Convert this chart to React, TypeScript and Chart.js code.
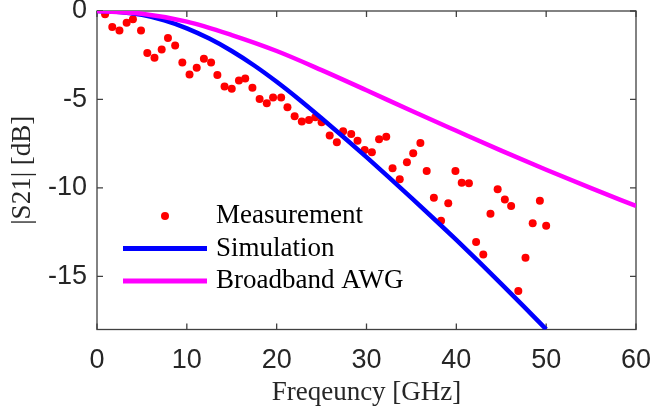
import React, { useEffect, useRef } from "react";
import { Chart, registerables } from "chart.js";

Chart.register(...registerables);

const measFreq = [0.9, 1.7, 2.5, 3.3, 4.0, 4.9, 5.6, 6.4, 7.2, 7.9, 8.7, 9.5, 10.3, 11.1, 11.9, 12.7, 13.4, 14.2, 15.0, 15.8, 16.5, 17.3, 18.1, 18.9, 19.6, 20.5, 21.2, 22.0, 22.8, 23.6, 24.3, 25.0, 25.9, 26.7, 27.4, 28.3, 29.0, 29.8, 30.6, 31.4, 32.2, 32.9, 33.7, 34.5, 35.2, 36.0, 36.7, 37.5, 38.3, 39.1, 39.9, 40.6, 41.4, 42.2, 43.0, 43.8, 44.6, 45.4, 46.1, 46.9, 47.7, 48.5, 49.3, 50.0];
const measS21 = [-0.19, -0.91, -1.10, -0.66, -0.47, -1.10, -2.38, -2.64, -2.17, -1.53, -1.95, -2.91, -3.59, -3.21, -2.70, -2.91, -3.61, -4.27, -4.40, -3.93, -3.82, -4.34, -4.98, -5.21, -4.89, -4.89, -5.44, -5.95, -6.25, -6.16, -6.0, -6.29, -7.04, -7.42, -6.80, -6.95, -7.33, -7.85, -7.98, -7.25, -7.1, -8.89, -9.51, -8.55, -8.04, -7.46, -9.04, -10.55, -11.85, -10.87, -9.04, -9.70, -9.74, -13.05, -13.76, -11.46, -10.08, -10.65, -11.02, -15.82, -13.95, -11.99, -10.72, -12.14];

const simFreq = [0, 2.5, 5, 7.5, 10, 12.5, 15, 17.5, 20, 22.5, 25, 27.5, 30, 32.5, 35, 37.5, 40, 42.5, 45, 47.5, 50];
const simS21 = [0, -0.05, -0.22, -0.53, -0.98, -1.56, -2.26, -3.08, -4.0, -5.0, -6.06, -7.15, -8.26, -9.4, -10.56, -11.74, -12.94, -14.17, -15.42, -16.69, -17.99];

const awgFreq = [0, 5, 10, 15, 20, 25, 30, 35, 40, 45, 50, 55, 60];
const awgS21 = [0, -0.15, -0.6, -1.36, -2.26, -3.34, -4.48, -5.64, -6.77, -7.89, -8.97, -10.01, -11.02];

const xTicks = [0, 10, 20, 30, 40, 50, 60];
const yTicks = [-15, -10, -5, 0];

const legendLabels = ["Measurement", "Simulation", "Broadband AWG"];
const xTitle = "Freqeuncy [GHz]";
const yTitle = "|S21| [dB]";

const AXIS = "#404040";
const TEXT = "#262626";
const RED = "#ff0000";
const BLUE = "#0000ff";
const MAGENTA = "#ff00ff";

const toXY = (xs: number[], ys: number[]) => xs.map((x, i) => ({ x, y: ys[i] }));

const decor = {
  id: "decor",
  beforeDatasetsDraw(chart: any) {
    const { ctx, chartArea: a, scales } = chart;
    ctx.save();
    ctx.strokeStyle = AXIS;
    ctx.lineWidth = 1.3;
    ctx.strokeRect(a.left, a.top, a.right - a.left, a.bottom - a.top);
    const tl = 6;
    ctx.beginPath();
    xTicks.forEach((v) => {
      const px = scales.x.getPixelForValue(v);
      ctx.moveTo(px, a.bottom);
      ctx.lineTo(px, a.bottom - tl);
      ctx.moveTo(px, a.top);
      ctx.lineTo(px, a.top + tl);
    });
    yTicks.forEach((v) => {
      const py = scales.y.getPixelForValue(v);
      ctx.moveTo(a.left, py);
      ctx.lineTo(a.left + tl, py);
      ctx.moveTo(a.right, py);
      ctx.lineTo(a.right - tl, py);
    });
    ctx.stroke();
    ctx.restore();
  },
  afterDraw(chart: any) {
    const { ctx, chartArea: a } = chart;
    ctx.save();
    ctx.fillStyle = TEXT;
    ctx.font = "27px 'Liberation Serif', 'Times New Roman', serif";
    ctx.textBaseline = "middle";
    ctx.textAlign = "center";
    ctx.fillText(xTitle, (a.left + a.right) / 2, 393);
    ctx.save();
    ctx.translate(22.5, (a.top + a.bottom) / 2);
    ctx.rotate(-Math.PI / 2);
    ctx.fillText(yTitle, 0, 0);
    ctx.restore();

    // legend
    const rows = [216, 248.5, 281];
    ctx.textAlign = "left";
    ctx.fillStyle = RED;
    ctx.beginPath();
    ctx.arc(165, rows[0], 4, 0, Math.PI * 2);
    ctx.fill();
    ctx.lineWidth = 5;
    ctx.strokeStyle = BLUE;
    ctx.beginPath();
    ctx.moveTo(123, rows[1]);
    ctx.lineTo(207, rows[1]);
    ctx.stroke();
    ctx.strokeStyle = MAGENTA;
    ctx.beginPath();
    ctx.moveTo(123, rows[2]);
    ctx.lineTo(207, rows[2]);
    ctx.stroke();
    ctx.fillStyle = "#000000";
    legendLabels.forEach((t, i) => ctx.fillText(t, 216, rows[i]));
    ctx.restore();
  },
};

export default function App() {
  const ref = useRef<HTMLCanvasElement | null>(null);
  useEffect(() => {
    document.body.style.margin = "0";
    const canvas = ref.current;
    if (!canvas) return;
    const chart = new Chart(canvas, {
      type: "scatter",
      data: {
        datasets: [
          {
            label: legendLabels[0],
            data: toXY(measFreq, measS21),
            showLine: false,
            pointRadius: 4,
            pointBorderWidth: 0,
            pointBackgroundColor: RED,
            borderColor: RED,
            order: 3,
          },
          {
            label: legendLabels[1],
            data: toXY(simFreq, simS21),
            showLine: true,
            pointRadius: 0,
            borderColor: BLUE,
            borderWidth: 4.5,
            cubicInterpolationMode: "monotone",
            order: 2,
          },
          {
            label: legendLabels[2],
            data: toXY(awgFreq, awgS21),
            showLine: true,
            pointRadius: 0,
            borderColor: MAGENTA,
            borderWidth: 4.5,
            cubicInterpolationMode: "monotone",
            order: 1,
          },
        ],
      },
      options: {
        animation: false,
        responsive: false,
        layout: { padding: { left: 0, top: 11, right: 16, bottom: 0 } },
        plugins: { legend: { display: false }, tooltip: { enabled: false } },
        scales: {
          x: {
            type: "linear",
            min: 0,
            max: 60,
            grid: { display: false, drawTicks: false },
            border: { display: false },
            afterBuildTicks: (s: any) => {
              s.ticks = xTicks.map((v) => ({ value: v }));
            },
            afterFit: (s: any) => {
              s.height = 81.5;
              s.paddingLeft = 0;
              s.paddingRight = 0;
            },
            ticks: {
              padding: 15,
              color: TEXT,
              font: { family: "'Liberation Sans', Arial, sans-serif", size: 27 },
              maxRotation: 0,
              autoSkip: false,
            },
          },
          y: {
            type: "linear",
            min: -18,
            max: 0,
            grid: { display: false, drawTicks: false },
            border: { display: false },
            afterBuildTicks: (s: any) => {
              s.ticks = yTicks.map((v) => ({ value: v }));
            },
            afterFit: (s: any) => {
              s.width = 97;
              s.paddingTop = 0;
              s.paddingBottom = 0;
            },
            ticks: {
              padding: 10,
              color: TEXT,
              font: { family: "'Liberation Sans', Arial, sans-serif", size: 27 },
            },
          },
        },
      },
      plugins: [decor],
    });
    return () => chart.destroy();
  }, []);
  return (
    <div style={{ width: 652, height: 411 }}>
      <canvas ref={ref} width={652} height={411} style={{ display: "block" }} />
    </div>
  );
}
